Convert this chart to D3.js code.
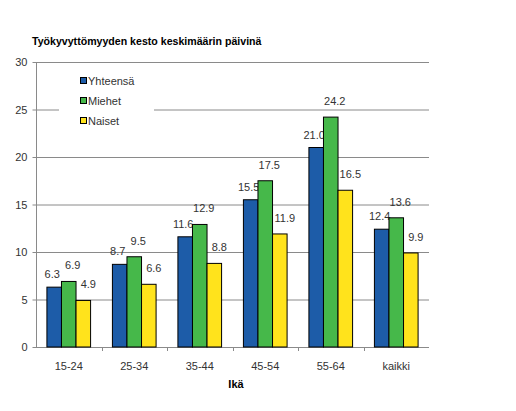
<!DOCTYPE html>
<html><head><meta charset="utf-8">
<script src="https://cdn.jsdelivr.net/npm/d3@7"></script>
<style>body{margin:0;background:#fff}svg{display:block}text{font-family:"Liberation Sans",Arial,sans-serif}</style>
</head><body><svg id="c" width="516" height="411"></svg>
<script>
const categories = ["15-24","25-34","35-44","45-54","55-64","kaikki"];
const seriesNames = ["Yhteensä","Miehet","Naiset"];
const yhteensa = [6.3, 8.7, 11.6, 15.5, 21.0, 12.4];
const miehet = [6.9, 9.5, 12.9, 17.5, 24.2, 13.6];
const naiset = [4.9, 6.6, 8.8, 11.9, 16.5, 9.9];
const yTicks = [0,5,10,15,20,25,30];
const title = "Työkyvyttömyyden kesto keskimäärin päivinä";
const xTitle = "Ikä";

const colors = ["#1d5ca8","#46b84a","#ffe31c"];
const labelDx = [-2, 4, 5];
const labelDy = [9, 12, 12];
const series = [yhteensa, miehet, naiset];

const svg = d3.select("#c");
const L = 36, R = 429, T = 62, B = 347;
const x = d3.scaleBand().domain(categories).range([L, R]).paddingInner(0).paddingOuter(0);
const y = d3.scaleLinear().domain([0, 30]).range([B, T]);
const bw = x.bandwidth() / 4.5;
const x1 = d3.scaleBand().domain(seriesNames).range([bw * 0.75, bw * 3.75]);

// gridlines
svg.append("g").selectAll("line").data(yTicks.filter(d => d > 0)).join("line")
  .attr("x1", L).attr("x2", R).attr("y1", d => y(d) + 0.5).attr("y2", d => y(d) + 0.5)
  .attr("stroke", "#8a8a8a").attr("stroke-width", 1);

// y axis
const ya = svg.append("g").attr("transform", `translate(${L + 0.5},0)`)
  .call(d3.axisLeft(y).tickValues(yTicks).tickSize(4).tickPadding(5).tickFormat(d3.format("d")));
ya.select(".domain").attr("stroke", "#8a8a8a").attr("d", `M0,${T}V${B}`);
ya.selectAll(".tick line").attr("stroke", "#8a8a8a");
ya.selectAll(".tick text").attr("font-size", 11).attr("fill", "#333");

// x axis
const xa = svg.append("g").attr("transform", `translate(0,${B + 0.5})`)
  .call(d3.axisBottom(x).tickSize(0).tickPadding(15));
xa.select(".domain").attr("stroke", "#8a8a8a").attr("d", `M${L},0H${R}`);
xa.selectAll(".tick text").attr("font-size", 11).attr("fill", "#333");
svg.append("g").selectAll("line").data(categories.slice(1)).join("line")
  .attr("x1", d => Math.round(x(d)) + 0.5).attr("x2", d => Math.round(x(d)) + 0.5)
  .attr("y1", B).attr("y2", B + 4).attr("stroke", "#8a8a8a");

// labels (drawn before bars, so overlapping bars hide parts as in original)
series.forEach((vals, si) => {
  svg.append("g").selectAll("text").data(vals).join("text")
    .attr("x", (d, i) => x(categories[i]) + x1(seriesNames[si]) + x1.bandwidth() / 2 + labelDx[si])
    .attr("y", d => y(d) - labelDy[si])
    .attr("text-anchor", "middle").attr("font-size", 11).attr("fill", "#333")
    .text(d => d3.format(".1f")(d));
});

// bars
series.forEach((vals, si) => {
  svg.append("g").selectAll("rect").data(vals).join("rect")
    .attr("x", (d, i) => x(categories[i]) + x1(seriesNames[si]))
    .attr("y", d => y(d))
    .attr("width", x1.bandwidth())
    .attr("height", d => B - y(d))
    .attr("fill", colors[si]).attr("stroke", "#000").attr("stroke-width", 1);
});

// legend
const lg = svg.append("g");
lg.append("rect").attr("x", 59).attr("y", 70).attr("width", 95).attr("height", 62).attr("fill", "#fff");
seriesNames.forEach((n, i) => {
  const cy = 81 + i * 20;
  lg.append("rect").attr("x", 80.5).attr("y", cy - 3.5).attr("width", 6).attr("height", 6)
    .attr("fill", colors[i]).attr("stroke", "#000");
  lg.append("text").attr("x", 88).attr("y", cy + 4).attr("font-size", 11).attr("fill", "#333").text(n);
});

// titles
svg.append("text").attr("x", 32).attr("y", 45).attr("font-size", 10.6).attr("font-weight", "bold")
  .attr("fill", "#000").text(title);
svg.append("text").attr("x", 236).attr("y", 388).attr("text-anchor", "middle").attr("font-size", 11)
  .attr("font-weight", "bold").attr("fill", "#000").text(xTitle);
</script></body></html>
